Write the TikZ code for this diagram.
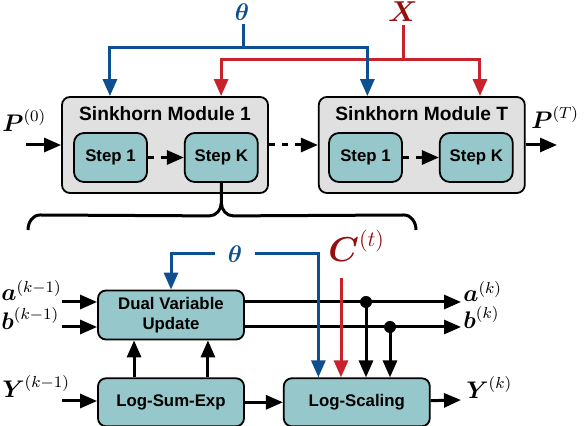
\documentclass[tikz,border=0pt]{standalone}
\usepackage{amsmath,amssymb}
\usepackage{fontspec}
\newfontfamily\blockfont{Liberation Sans}
\usepackage{tikz}
\usetikzlibrary{arrows.meta,positioning,calc}
\definecolor{sinkBlue}{HTML}{0E4F8F}
\definecolor{sinkRed}{HTML}{C8232D}
\definecolor{sinkDarkRed}{HTML}{960F0F}
\definecolor{sinkGray}{HTML}{E0E0E0}
\definecolor{sinkTeal}{HTML}{96C7CA}
\tikzset{
  moduleBox/.style={
    rectangle,
    rounded corners=4pt,
    draw=black,
    fill=sinkGray,
    line width=0.9pt,
    minimum width=103pt,
    minimum height=48pt
  },
  moduleTitle/.style={
    inner sep=0pt,
    font=\blockfont\bfseries\fontsize{9.6}{11}\selectfont
  },
  stepBox/.style={
    rectangle,
    rounded corners=5pt,
    draw=black,
    fill=sinkTeal,
    line width=0.9pt,
    minimum width=36.5pt,
    minimum height=24.5pt,
    font=\blockfont\bfseries\fontsize{8.4}{10}\selectfont
  },
  blockBox/.style={
    rectangle,
    rounded corners=4pt,
    draw=black,
    fill=sinkTeal,
    line width=0.9pt,
    minimum width=73pt,
    minimum height=24pt,
    align=center,
    font=\blockfont\bfseries\fontsize{8.4}{10}\selectfont
  },
  varLabel/.style={
    inner sep=0pt,
    font=\fontsize{11.5}{13}\selectfont
  },
  paramLabel/.style={
    inner sep=0pt,
    text=sinkBlue,
    font=\fontsize{13}{15}\selectfont
  },
  costLabel/.style={
    inner sep=0pt,
    text=sinkDarkRed,
    font=\fontsize{16}{18}\selectfont
  },
  wire/.style={
    line width=1.5pt,
    draw=black
  },
  arrow/.style={
    -{Triangle[length=8.5pt,width=7pt]},
    line width=1.5pt,
    draw=black
  },
  dashArrow/.style={
    arrow,
    dash pattern=on 3pt off 3.5pt
  },
  blueLine/.style={
    line width=1.5pt,
    draw=sinkBlue
  },
  blueArrow/.style={
    -{Triangle[length=8.5pt,width=7pt]},
    line width=1.5pt,
    draw=sinkBlue
  },
  redLine/.style={
    line width=1.5pt,
    draw=sinkRed
  },
  redArrow/.style={
    -{Triangle[length=8.5pt,width=7pt]},
    line width=1.5pt,
    draw=sinkRed
  }
}

\begin{document}
\begin{tikzpicture}[x=0.5pt,y=-0.5pt]
  \useasboundingbox (0,0) rectangle (584,426);

  % sinkhorn modules
  \node[moduleBox] (mod1) at (165,145) {};
  \node[moduleBox,right=24.5pt of mod1] (modT) {};
  \node[moduleTitle] (title1) at ($(mod1.north)+(0,18)$) {Sinkhorn Module 1};
  \node[moduleTitle] (titleT) at ($(modT.north)+(0,18)$) {Sinkhorn Module T};
  \node[stepBox] (step11) at (110.5,157.5) {Step 1};
  \node[stepBox,right=18pt of step11] (step1K) {Step K};
  \node[stepBox] (stepT1) at (365.5,157.5) {Step 1};
  \node[stepBox,right=18pt of stepT1] (stepTK) {Step K};
  \draw[dashArrow] (step11) -- (step1K);
  \draw[dashArrow] (stepT1) -- (stepTK);

  % module inputs and outputs
  \node[varLabel,anchor=base west] (pIn) at (2,132) {$\boldsymbol{P}^{(0)}$};
  \node[varLabel,anchor=base west] (pOut) at (531,129) {$\boldsymbol{P}^{(T)}$};
  \coordinate (pStart) at (26,145);
  \coordinate (pEnd) at (557,145);
  \draw[arrow] (pStart) -- (mod1.west);
  \draw[dashArrow] (mod1.east) -- (modT.west);
  \draw[arrow] (modT.east) -- (pEnd);

  % parameters fed to every module
  \node[costLabel,anchor=base,font=\fontsize{14}{16}\selectfont] (xTop) at (403,22) {$\boldsymbol{X}$};
  \node[paramLabel,anchor=base] (thetaTop) at (242,21) {$\boldsymbol{\theta}$};
  \coordinate (redBus) at (403,60);
  \coordinate (blueBus) at (243,48);
  \coordinate (mod1Red) at ($(mod1.north west)!0.77!(mod1.north east)$);
  \coordinate (modTRed) at ($(modT.north west)!0.78!(modT.north east)$);
  \coordinate (mod1Blue) at ($(mod1.north west)!0.235!(mod1.north east)$);
  \coordinate (modTBlue) at ($(modT.north west)!0.238!(modT.north east)$);
  \draw[redLine] (redBus |- xTop.south) ++(0,3) -- (redBus);
  \draw[redArrow] (redBus) -| (mod1Red);
  \draw[redArrow] (redBus) -| (modTRed);
  \draw[blueLine] (blueBus |- thetaTop.south) ++(0,3) -- (blueBus);
  \draw[blueArrow] (blueBus) -| (mod1Blue);
  \draw[blueArrow] (blueBus) -| (modTBlue);

  % brace opening step K
  \coordinate (braceTip) at ($(step1K.south)+(0,20)$);
  \coordinate (braceL) at (40,215);
  \coordinate (braceR) at (404,215);
  \draw[wire] (step1K.south) -- (braceTip) to[out=-90,in=0] ++(-12,13) -- (braceL)
    to[out=180,in=90] ++(-12,15);
  \draw[wire] (braceTip) to[out=-90,in=180] ++(12,13) -- (braceR)
    to[out=0,in=90] ++(12,15);

  % inside one step
  \node[blockBox] (dual) at (171,315) {Dual Variable\\Update};
  \node[blockBox,below=18.5pt of dual] (lse) {Log-Sum-Exp};
  \node[blockBox,right=19pt of lse] (scale) {Log-Scaling};

  \node[varLabel,anchor=base west] (aIn) at (1,301) {$\boldsymbol{a}^{(k-1)}$};
  \node[varLabel,anchor=base west] (bIn) at (1,330) {$\boldsymbol{b}^{(k-1)}$};
  \node[varLabel,anchor=base west] (yIn) at (2,398) {$\boldsymbol{Y}^{(k-1)}$};
  \node[varLabel,anchor=base west] (aOut) at (463,302) {$\boldsymbol{a}^{(k)}$};
  \node[varLabel,anchor=base west] (bOut) at (463,329) {$\boldsymbol{b}^{(k)}$};
  \node[varLabel,anchor=base west] (yOut) at (466,399) {$\boldsymbol{Y}^{(k)}$};

  \coordinate (aStart) at (62,302);
  \coordinate (bStart) at (62,327);
  \coordinate (yStart) at (62,401);
  \coordinate (aEnd) at (461,302);
  \coordinate (bEnd) at (461,327);
  \coordinate (yEnd) at (461,400);
  \draw[arrow] (aStart) -- (aStart -| dual.west);
  \draw[arrow] (bStart) -- (bStart -| dual.west);
  \draw[arrow] (yStart) -- (yStart -| lse.west);
  \draw[arrow] ($(lse.north west)!0.25!(lse.north east)$) -- ($(dual.south west)!0.25!(dual.south east)$);
  \draw[arrow] ($(lse.north west)!0.75!(lse.north east)$) -- ($(dual.south west)!0.75!(dual.south east)$);
  \draw[arrow] (lse) -- (scale);
  \draw[arrow] (dual.east |- aEnd) -- (aEnd);
  \draw[arrow] (dual.east |- bEnd) -- (bEnd);
  \draw[arrow] (scale) -- (yEnd);

  \coordinate (aTap) at (366,302);
  \coordinate (bTap) at (390,327);
  \fill (aTap) circle[radius=3pt];
  \fill (bTap) circle[radius=3pt];
  \draw[arrow] (aTap) -- (aTap |- scale.north);
  \draw[arrow] (bTap) -- (bTap |- scale.north);

  % parameters and cost inside the step
  \node[paramLabel,inner xsep=6pt] (thetaLow) at (235,254) {$\boldsymbol{\theta}$};
  \node[costLabel,anchor=base west] (cLab) at (328,262) {$\boldsymbol{C}^{(t)}$};
  \coordinate (scaleBlue) at ($(scale.north west)!0.24!(scale.north east)$);
  \coordinate (cStart) at (341,278);
  \draw[blueArrow] (thetaLow.west) -| (dual.north);
  \draw[blueArrow] (thetaLow.east) -| (scaleBlue);
  \draw[redArrow] (cStart) -- (cStart |- scale.north);
\end{tikzpicture}
\end{document}
